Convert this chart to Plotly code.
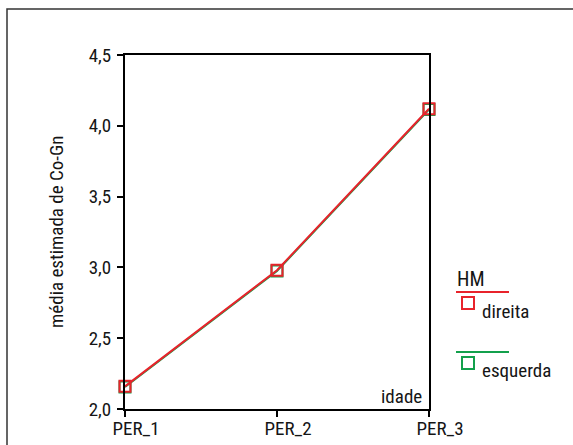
import plotly.graph_objects as go

categories = ["PER_1", "PER_2", "PER_3"]
direita = [2.16, 2.98, 4.12]
esquerda = [2.155, 2.975, 4.115]
y_ticks = [2.0, 2.5, 3.0, 3.5, 4.0, 4.5]

RED = "#e8232b"
GREEN = "#13a04c"
FONT = "Roboto Condensed, Liberation Sans Narrow, sans-serif"

xpos = list(range(len(categories)))

fig = go.Figure()
fig.add_trace(go.Scatter(x=xpos, y=esquerda, mode="lines+markers", name="esquerda",
                         line=dict(color=GREEN, width=2),
                         marker=dict(symbol="square-open", size=11, color=GREEN, line=dict(width=2)),
                         cliponaxis=False))
fig.add_trace(go.Scatter(x=xpos, y=direita, mode="lines+markers", name="direita",
                         line=dict(color=RED, width=2),
                         marker=dict(symbol="square-open", size=11, color=RED, line=dict(width=2)),
                         cliponaxis=False))

L, R, T, B = 125, 144, 55, 36
W, H = 573, 445
pw, ph = W - L - R, H - T - B

def px(x):
    return (x - L) / pw

def py(y):
    return 1 - (y - T) / ph

fig.update_layout(
    width=W, height=H, margin=dict(l=L, r=R, t=T, b=B, autoexpand=False),
    paper_bgcolor="white", plot_bgcolor="white",
    showlegend=False, separators=",.",
    font=dict(family=FONT, size=18, color="#151515"),
    xaxis=dict(range=[0, 2], tickvals=xpos, ticktext=categories, automargin=False,
               showgrid=False, zeroline=False, showline=True, linecolor="black",
               linewidth=2, mirror=True, ticks="outside", ticklen=6, tickwidth=1.5,
               tickcolor="black", ticklabelshift=11, ticklabelstandoff=-5, tickfont=dict(size=19)),
    yaxis=dict(range=[2.0, 4.5], tickvals=y_ticks, tickformat=".1f", automargin=False,
               showgrid=False, zeroline=False, showline=True, linecolor="black",
               linewidth=2, mirror=True, ticks="outside", ticklen=6, tickwidth=1.5,
               tickcolor="black", ticklabelstandoff=2, tickfont=dict(size=19)),
)

shapes = [
    # outer frame
    dict(type="rect", xref="paper", yref="paper", x0=px(7), x1=px(580), y0=py(9), y1=py(452),
         line=dict(color="#333", width=1.5), fillcolor="rgba(0,0,0,0)", layer="below"),
    # legend lines
    dict(type="line", xref="paper", yref="paper", x0=px(456), x1=px(509), y0=py(292), y1=py(292),
         line=dict(color=RED, width=2)),
    dict(type="line", xref="paper", yref="paper", x0=px(456), x1=px(509), y0=py(352), y1=py(352),
         line=dict(color=GREEN, width=2)),
    # legend markers
    dict(type="rect", xref="paper", yref="paper", x0=px(462), x1=px(474), y0=py(297), y1=py(309),
         line=dict(color=RED, width=2)),
    dict(type="rect", xref="paper", yref="paper", x0=px(462), x1=px(474), y0=py(357), y1=py(369),
         line=dict(color=GREEN, width=2)),
]
fig.update_layout(shapes=shapes)

ann = [
    dict(text="média estimada de Co-Gn", x=px(56), y=py(232), textangle=-90, font=dict(size=19)),
    dict(text="idade", x=px(401), y=py(396), font=dict(size=19)),
    dict(text="HM", x=px(455), y=py(279), xanchor="left", font=dict(size=20)),
    dict(text="direita", x=px(480), y=py(311), xanchor="left", font=dict(size=19)),
    dict(text="esquerda", x=px(480), y=py(370), xanchor="left", font=dict(size=19)),
]
for a in ann:
    a.update(xref="paper", yref="paper", showarrow=False)
    a.setdefault("xanchor", "center")
    a.setdefault("yanchor", "middle")
fig.update_layout(annotations=ann)

fig.write_html("out.html")
